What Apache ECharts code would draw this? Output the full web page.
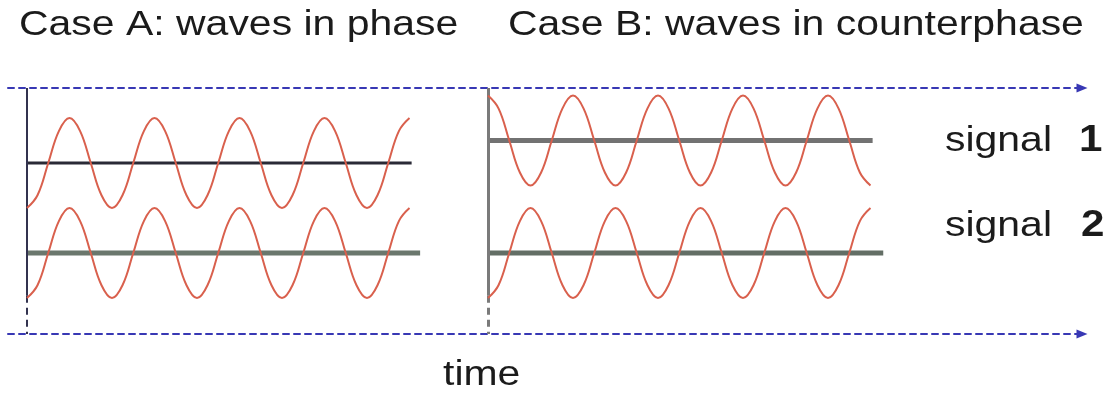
<!DOCTYPE html>
<html>
<head>
<meta charset="utf-8">
<script src="https://cdn.jsdelivr.net/npm/echarts@6/dist/echarts.min.js"></script>
<style>
html,body{margin:0;padding:0;background:#fff;}
#chart{width:1117px;height:400px;}
</style>
</head>
<body>
<div id="chart"></div>
<script>
// time in quarter-periods (sampled every eighth of a period)
const time = [0,0.5,1,1.5,2,2.5,3,3.5,4,4.5,5,5.5,6,6.5,7,7.5,8,8.5,9,9.5,10,10.5,11,11.5,12,12.5,13,13.5,14,14.5,15,15.5,16,16.5,17,17.5,18];
// Case A: waves in phase
const waveA1 = [1,1.29,2,2.71,3,2.71,2,1.29, 1,1.29,2,2.71,3,2.71,2,1.29, 1,1.29,2,2.71,3,2.71,2,1.29, 1,1.29,2,2.71,3,2.71,2,1.29, 1,1.29,2,2.71,3];
const waveA2 = [-1,-0.71,0,0.71,1,0.71,0,-0.71, -1,-0.71,0,0.71,1,0.71,0,-0.71, -1,-0.71,0,0.71,1,0.71,0,-0.71, -1,-0.71,0,0.71,1,0.71,0,-0.71, -1,-0.71,0,0.71,1];
// Case B: waves in counterphase
const waveB1 = [3.5,3.21,2.5,1.79,1.5,1.79,2.5,3.21, 3.5,3.21,2.5,1.79,1.5,1.79,2.5,3.21, 3.5,3.21,2.5,1.79,1.5,1.79,2.5,3.21, 3.5,3.21,2.5,1.79,1.5,1.79,2.5,3.21, 3.5,3.21,2.5,1.79,1.5];
const waveB2 = [-1,-0.71,0,0.71,1,0.71,0,-0.71, -1,-0.71,0,0.71,1,0.71,0,-0.71, -1,-0.71,0,0.71,1,0.71,0,-0.71, -1,-0.71,0,0.71,1,0.71,0,-0.71, -1,-0.71,0,0.71,1];
// signal reference levels: [level, start time, end time]
const levelA1 = [2, 0, 18.1];
const levelA2 = [0, 0, 18.5];
const levelB1 = [2.5, 0, 18.1];
const levelB2 = [0, 0, 18.6];
// vertical axis extents (signal units)
const axisTop = 3.667, axisSolidEnd = -0.95, axisBottom = -1.8;
// texts
const titleA = 'Case A: waves in phase';
const titleB = 'Case B: waves in counterphase';
const signalLabels = ['signal', 'signal'];
const signalNums = ['1', '2'];
const timeLabel = 'time';

const zip = (xs, ys) => xs.map((x, i) => [x, ys[i]]);
const levelData = l => [[l[1], l[0]], [l[2], l[0]]];

const FONT = "'Liberation Sans', Arial, sans-serif";
const SX = 1.17;
const WAVE = '#d9604d';
const DASH = '#3838b4';

function waveSeries(gi, data, extra) {
  return Object.assign({
    type: 'line', xAxisIndex: gi + 1, yAxisIndex: gi, data: data,
    smooth: 0.4, showSymbol: false, silent: true, z: 5,
    lineStyle: {color: WAVE, width: 2}
  }, extra || {});
}
function levelSeries(gi, l, color, width) {
  return {
    type: 'line', xAxisIndex: gi + 1, yAxisIndex: gi, data: levelData(l),
    showSymbol: false, silent: true, z: 3,
    lineStyle: {color: color, width: width}
  };
}
function vAxisMark(color, width) {
  return {
    silent: true, symbol: ['none', 'none'], label: {show: false},
    data: [
      [{coord: [0, axisTop], lineStyle: {color: color, width: width, type: 'solid'}}, {coord: [0, axisSolidEnd]}],
      [{coord: [0, axisSolidEnd], lineStyle: {color: color, width: width, type: [7, 5]}}, {coord: [0, axisBottom]}]
    ]
  };
}
function text(x, y, s, size, weight) {
  return {
    type: 'text', x: x, y: y, scaleX: SX, z: 10, silent: true,
    style: {text: s, fontSize: size, fontFamily: FONT, fontWeight: weight || 'normal',
            fill: '#1b1b1b', align: 'left', verticalAlign: 'middle'}
  };
}

const frameAxis = (pos) => ({
  type: 'value', gridIndex: 0, position: pos, min: 0, max: 1,
  axisLine: {show: true, symbol: ['none', 'triangle'], symbolSize: [9, 11],
    lineStyle: {color: DASH, width: 2, type: [6, 5]}},
  axisTick: {show: false}, axisLabel: {show: false}, splitLine: {show: false}
});
const hiddenX = (gi) => ({type: 'value', gridIndex: gi, min: 0, max: 20, show: false});
const hiddenY = (gi) => ({type: 'value', gridIndex: gi, min: axisBottom, max: axisTop, show: false});

const chart = echarts.init(document.getElementById('chart'), null, {renderer: 'canvas'});
chart.setOption({
  animation: false,
  backgroundColor: '#ffffff',
  grid: [
    {left: 8, right: 35, top: 88, bottom: 66},
    {left: 27, top: 88, width: 425, height: 246},
    {left: 488, top: 88, width: 425, height: 246}
  ],
  xAxis: [frameAxis('bottom'), frameAxis('top'), hiddenX(1), hiddenX(2)],
  yAxis: [
    {type: 'value', gridIndex: 0, min: 0, max: 1, show: false},
    hiddenY(1), hiddenY(2)
  ],
  series: [
    {type: 'line', xAxisIndex: 0, yAxisIndex: 0, data: [], silent: true},
    levelSeries(1, levelA1, '#2a2a36', 3),
    levelSeries(1, levelA2, '#6b776d', 5),
    levelSeries(2, levelB1, '#727272', 5),
    levelSeries(2, levelB2, '#636e65', 5),
    waveSeries(1, zip(time, waveA1)),
    waveSeries(1, zip(time, waveA2), {markLine: vAxisMark('#33334f', 2)}),
    waveSeries(2, zip(time, waveB1)),
    waveSeries(2, zip(time, waveB2), {markLine: vAxisMark('#7a7a7a', 3)})
  ],
  graphic: [
    text(19, 25, titleA, 35),
    text(508, 25, titleB, 35),
    text(945, 141, signalLabels[0], 35),
    text(1079, 141, signalNums[0], 36, 'bold'),
    text(945, 226, signalLabels[1], 35),
    text(1081, 226, signalNums[1], 36, 'bold'),
    text(443, 375, timeLabel, 35)
  ]
});
</script>
</body>
</html>
